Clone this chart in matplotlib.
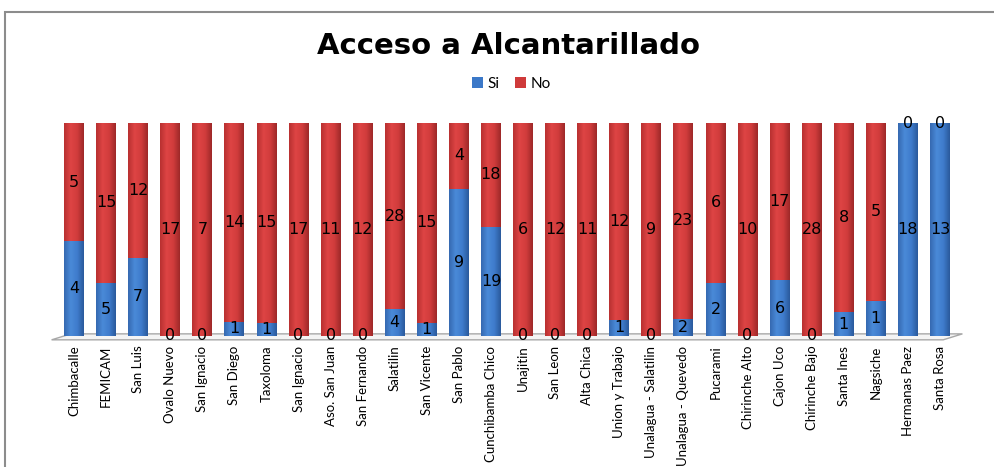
import numpy as np
import matplotlib
matplotlib.use("Agg")
import matplotlib.pyplot as plt
from matplotlib.colors import LinearSegmentedColormap
from matplotlib.patches import Rectangle, Polygon

categories = ["Chimbacalle", "FEMICAM", "San Luis", "Ovalo Nuevo", "San Ignacio",
              "San Diego", "Taxoloma", "San Ignacio", "Aso. San Juan", "San Fernando",
              "Salatilin", "San Vicente", "San Pablo", "Cunchibamba Chico", "Unajitin",
              "San Leon", "Alta Chica", "Union y Trabajo", "Unalagua - Salatilin",
              "Unalagua - Quevedo", "Pucarami", "Chirinche Alto", "Cajon Uco",
              "Chirinche Bajo", "Santa Ines", "Nagsiche", "Hermanas Paez", "Santa Rosa"]
si = [4, 5, 7, 0, 0, 1, 1, 0, 0, 0, 4, 1, 9, 19, 0, 0, 0, 1, 0, 2, 2, 0, 6, 0, 1, 1, 18, 13]
no = [5, 15, 12, 17, 7, 14, 15, 17, 11, 12, 28, 15, 4, 18, 6, 12, 11, 12, 9, 23, 6, 10, 17, 28, 8, 5, 0, 0]

si = np.array(si, dtype=float)
no = np.array(no, dtype=float)
total = si + no
si_pct = si / total * 100
no_pct = no / total * 100

fig = plt.figure(figsize=(9.95, 4.67), dpi=100)
# outer chart frame (cut on the right and bottom like the original)
fig.patches.append(Rectangle((5 / 995, -0.1), 1.2, (467 - 12) / 467 + 0.1,
                             transform=fig.transFigure, fill=False,
                             edgecolor="#8c8c8c", linewidth=1.5))

ax = fig.add_axes([61.2 / 995, 131 / 467, 891.6 / 995, 213 / 467])
x = np.arange(len(categories))
w = 0.62
b1 = ax.bar(x, si_pct, w, color="#3b78c8", label="Si", zorder=2)
b2 = ax.bar(x, no_pct, w, bottom=si_pct, color="#cf3a3a", label="No", zorder=2)

# cylinder-like shading
blue_cm = LinearSegmentedColormap.from_list("b", ["#3569b0", "#4a8ad8", "#3f7ccc", "#2a5a9c"])
red_cm = LinearSegmentedColormap.from_list("r", ["#b83030", "#de4444", "#d13c3c", "#9e2828"])
grad = np.linspace(0, 1, 64).reshape(1, -1)
for bars, cm in ((b1, blue_cm), (b2, red_cm)):
    for p in bars:
        if p.get_height() <= 0:
            continue
        im = ax.imshow(grad, extent=[p.get_x(), p.get_x() + p.get_width(),
                                     p.get_y(), p.get_y() + p.get_height()],
                       aspect="auto", cmap=cm, zorder=2.5, interpolation="bilinear")
        im.set_clip_path(p)

ax.bar_label(b1, labels=[str(int(v)) for v in si], label_type="center",
             fontsize=11.5, color="black", zorder=4)
ax.bar_label(b2, labels=[str(int(v)) for v in no], label_type="center",
             fontsize=11.5, color="black", zorder=4)

ax.set_xlim(-0.4, len(categories) - 0.6)
ax.set_ylim(0, 100)
# thin 3d-looking floor
floor = Polygon([(-0.7, -1.8), (27.1, -1.8), (27.7, 1.0), (-0.1, 1.0)], closed=True,
                facecolor="#f4f4f4", edgecolor="#a8a8a8", linewidth=1, zorder=1,
                clip_on=False)
ax.add_patch(floor)
for s in ax.spines.values():
    s.set_visible(False)
ax.set_yticks([])
ax.set_xticks(x)
ax.set_xticklabels(categories, rotation=90, fontsize=9.5, family="Lato")
ax.tick_params(axis="x", length=0, pad=7)

fig.text(0.511, 0.902, "Acceso a Alcantarillado", ha="center", va="center",
         fontsize=21, fontweight="bold", family="DejaVu Sans")
leg = fig.legend(handles=[b1, b2], labels=["Si", "No"], loc="center",
                 bbox_to_anchor=(0.514, 0.82), ncol=2, frameon=False,
                 handlelength=0.7, handleheight=0.7,
                 handletextpad=0.3, columnspacing=1.0,
                 prop={"family": "Lato", "size": 11})

fig.savefig("out.png", dpi=100, facecolor="white")
